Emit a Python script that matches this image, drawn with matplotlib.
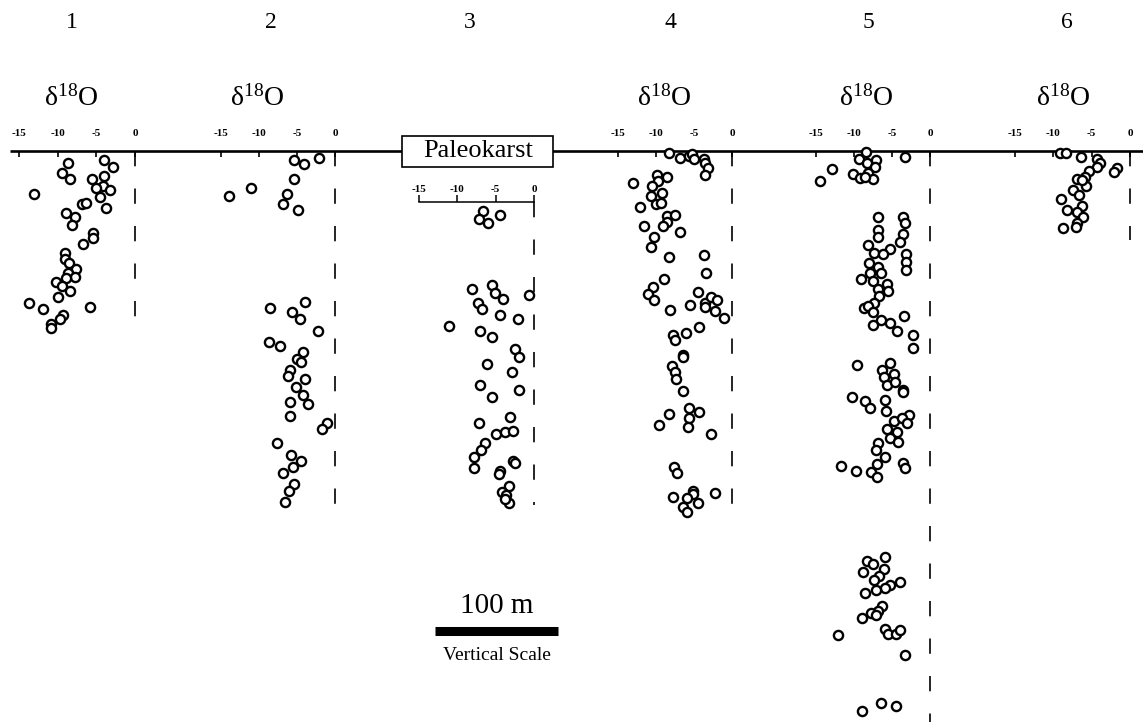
import numpy as np
import matplotlib.pyplot as plt
from matplotlib.patches import Rectangle

# -------------------------------------------------------
# delta-18O profiles of six sections hung from the paleokarst surface
# x = d18O (per mil), y = depth below the surface (m)
# -------------------------------------------------------

plt.rcParams['font.family'] = ['Liberation Serif', 'DejaVu Serif']
plt.rcParams['mathtext.default'] = 'regular'
plt.rcParams['lines.scale_dashes'] = False

sections = ['1', '2', '3', '4', '5', '6']

c1_d18o = [-8.7, -4.0, -2.9, -9.4, -8.4, -5.5, -4.0, -4.1, -3.2, -5.0, -4.5, -13.0, -6.8,
           -6.4, -3.7, -8.9, -7.8, -8.2, -5.4, -5.4, -6.7, -9.1, -9.1, -8.5, -7.6, -8.6,
           -7.8, -8.9, -10.2, -9.5, -8.4, -10.0, -13.7, -11.9, -5.8, -9.3, -9.7, -10.8, -10.9]
c1_depth = [10.0, 7.3, 13.2, 17.6, 23.0, 22.5, 20.1, 28.5, 31.7, 30.3, 37.2, 35.2, 43.1,
            42.0, 46.6, 50.7, 54.0, 60.4, 66.9, 71.0, 75.6, 83.2, 88.1, 91.3, 96.2, 99.0,
            102.7, 103.5, 106.3, 109.8, 113.8, 118.5, 123.3, 128.7, 127.1, 133.3, 136.6,
            140.7, 144.1]

c2_d18o = [-5.4, -4.1, -2.1, -5.4, -11.0, -13.9, -6.3, -6.8, -4.9,
           -4.0, -8.6, -5.7, -4.6, -2.2, -8.7, -7.2, -4.2, -5.0, -4.5, -5.9, -6.2, -3.9,
           -5.1, -4.2, -3.6, -5.9, -5.9, -1.1, -1.7, -7.6, -5.8, -4.5, -5.5, -6.9, -5.4,
           -6.0, -6.6]
c2_depth = [7.3, 10.6, 5.7, 22.5, 30.1, 36.6, 35.0, 43.1, 48.0,
            122.8, 127.6, 130.9, 136.8, 146.6, 155.3, 158.5, 163.4, 168.9, 171.5, 178.0,
            182.9, 185.6, 192.1, 198.1, 205.7, 204.3, 215.4, 221.4, 226.3, 237.4, 247.2,
            251.8, 256.7, 261.5, 270.7, 276.2, 285.4]

c3_d18o = [-6.6, -4.5, -7.2, -6.0, -5.5, -8.1, -5.1, -4.0, -0.7, -7.3, -6.8, -4.5, -2.1,
           -11.1, -7.1, -5.5, -2.5, -1.9, -6.1, -2.9, -7.1, -2.0, -5.5, -3.1, -7.2, -5.0,
           -3.8, -2.8, -6.4, -6.9, -7.8, -7.8, -2.8, -2.5, -4.4, -4.6, -3.3, -4.2, -3.6,
           -3.2, -3.8]
c3_depth = [7.1, 10.3, 13.6, 16.8, 67.2, 70.7, 74.2, 78.9, 75.4, 82.4, 87.2, 91.6, 95.4,
            100.8, 105.1, 110.0, 119.8, 125.8, 132.0, 138.0, 148.8, 152.8, 158.8, 174.6,
            179.9, 188.9, 187.2, 186.2, 195.7, 201.6, 207.6, 216.0, 210.3, 212.4, 218.7,
            221.4, 230.9, 235.5, 238.2, 245.0, 241.7]

c4_d18o = [-8.3, -6.9, -5.7, -5.3, -5.0, -3.7, -3.5, -3.2, -3.6, -8.6, -9.9, -13.0, -9.7,
           -10.5, -9.2, -10.6, -10.0, -9.3, -12.1, -8.6, -7.5, -8.5, -9.1, -11.6, -6.9,
           -10.2, -10.6, -8.3, -3.7, -3.4, -9.0, -10.4, -11.1, -10.2, -8.1, -4.5, -5.5,
           -3.5, -2.7, -2.0, -2.2, -1.0, -3.6, -4.4, -6.0, -7.7, -7.5, -6.4, -6.5, -7.9,
           -7.5, -7.4, -6.5, -5.6, -4.4, -5.6, -8.3, -9.6, -5.8, -2.8, -7.6, -7.3, -5.1,
           -5.1, -7.7, -5.9, -4.5, -2.2, -6.5, -5.9]
c4_depth = [1.9, 5.9, 4.1, 2.4, 6.7, 6.3, 9.5, 13.8, 19.3, 20.9, 19.5, 25.8, 24.1, 28.5,
            33.9, 36.3, 43.1, 42.5, 45.8, 52.6, 52.0, 57.5, 60.7, 61.0, 66.1, 70.2, 77.8,
            86.4, 84.6, 99.4, 103.8, 110.3, 116.3, 121.1, 129.3, 114.6, 125.2, 123.8,
            118.5, 121.1, 129.8, 136.0, 126.6, 142.8, 148.2, 149.3, 153.7, 165.9, 167.2,
            174.8, 179.7, 185.6, 194.9, 209.2, 212.0, 217.3, 214.1, 223.0, 224.1, 230.1,
            256.7, 261.5, 276.2, 278.9, 281.1, 282.4, 285.9, 278.3, 289.2, 293.3]

c5_d18o = [-8.4, -3.3, -9.3, -7.1, -8.3, -7.2, -12.9, -10.1, -9.2, -8.1, -7.5, -14.5, -8.5,
           -6.8, -3.6, -3.3, -6.9, -6.9, -3.5, -3.9, -8.2, -5.3, -7.4, -6.2, -3.1, -3.1,
           -8.0, -6.9, -3.2, -6.5, -7.9, -9.1, -7.5, -5.6, -6.9, -5.5, -6.7, -7.4, -8.7,
           -8.1, -7.5, -3.4, -6.5, -5.3, -7.5, -4.3, -2.2, -2.3, -9.6, -5.3, -6.3, -4.8,
           -6.0, -5.7, -4.6, -3.5, -3.5, -10.3, -8.5, -5.9, -7.9, -5.8, -2.7, -4.8, -3.7,
           -3.0, -5.7, -4.4, -5.3, -4.2, -6.8, -7.1, -5.9, -3.6, -3.3, -11.7, -9.7, -7.7,
           -7.0, -7.0,
           -8.3, -5.9, -7.5, -6.1, -8.8, -6.7, -7.4, -5.3, -3.9, -5.9, -7.1, -8.5, -6.3,
           -6.9, -7.8, -8.9, -7.1, -5.9, -5.5, -4.5, -3.9, -12.1, -3.3, -6.4, -4.5, -9.0]
c5_depth = [0.8, 4.6, 6.7, 7.3, 9.5, 13.3, 14.6, 18.9, 22.2, 18.1, 23.0, 24.1, 20.9,
            53.4, 53.9, 58.3, 64.2, 69.7, 67.5, 74.2, 76.4, 79.9, 82.7, 84.0, 84.0, 90.0,
            90.8, 94.1, 96.7, 98.9, 99.4, 104.1, 105.4, 108.1, 112.0, 113.8, 117.9, 123.8,
            127.9, 126.0, 131.1, 134.1, 137.4, 139.6, 141.5, 146.1, 149.6, 160.4, 174.0,
            172.6, 178.0, 181.3, 183.5, 190.2, 187.6, 194.3, 195.7, 199.8, 203.0, 202.4,
            209.2, 211.1, 214.6, 219.3, 217.3, 221.4, 226.3, 228.2, 233.6, 236.3, 237.6,
            243.1, 248.5, 253.9, 258.0, 256.1, 259.9, 260.7, 254.5, 265.3,
            333.1, 330.3, 336.0, 339.8, 342.3, 345.5, 348.8, 352.8, 350.2, 355.5, 356.9,
            359.1, 369.9, 374.0, 375.9, 379.9, 377.2, 388.9, 392.9, 392.9, 389.4, 393.7,
            409.8, 449.0, 451.2, 455.3]

c6_d18o = [-9.1, -8.3, -6.4, -4.3, -3.9, -4.3, -1.7, -2.1, -5.3, -5.9, -6.9, -5.7, -6.3,
           -7.5, -6.7, -9.0, -6.2, -8.2, -6.9, -6.1, -6.9, -8.8, -7.0]
c6_depth = [1.9, 1.9, 5.1, 6.5, 9.5, 12.8, 13.8, 17.1, 16.0, 20.9, 22.5, 28.5, 23.6, 31.7,
            35.8, 38.8, 44.5, 48.0, 49.3, 53.9, 58.8, 62.8, 61.5]

d18o = [c1_d18o, c2_d18o, c3_d18o, c4_d18o, c5_d18o, c6_d18o]
depth = [c1_depth, c2_depth, c3_depth, c4_depth, c5_depth, c6_depth]
section_base = [145, 292, 246, 298, 464, 72]   # m, length of the zero line
ticks = [-15, -10, -5, 0]
tick_labels = ['-15', '-10', '-5', '0']

# layout (pixels)
W, H = 1143, 722
PX_PER_M = 1.23
TOP = 151
col_left = [19, 221, 419, 618, 816, 1015]
col_right = [135, 335, 534, 732, 930, 1130]
col_top = [151, 151, 202, 151, 151, 151]
num_x = [72, 271, 470, 670, 868, 1067]
lab_x = [71, 257, None, 664, 866, 1063]


def fx(px):
    return px / W


def fy(py):
    return 1 - py / H


fig = plt.figure(figsize=(W / 100, H / 100), dpi=100)

# background axes in metres (same scale both ways) for surface line + scale bar
bg = fig.add_axes([0, 0, 1, 1])
bg.set_xlim(0, W / PX_PER_M)
bg.set_ylim((H - TOP) / PX_PER_M, -TOP / PX_PER_M)
bg.axis('off')
bg.hlines(0, 10 / PX_PER_M, W / PX_PER_M, color='black', lw=1.9)

bar_x0 = 435 / PX_PER_M
bar_y = (631 - TOP) / PX_PER_M
bg.plot([bar_x0, bar_x0 + 100], [bar_y, bar_y], color='black', lw=6.5,
        solid_capstyle='butt')

for i in range(6):
    left, right, top = col_left[i], col_right[i], col_top[i]
    ax = fig.add_axes([fx(left), 0, (right - left) / W, (H - top) / H])
    ax.set_xlim(-15, 0)
    ax.set_ylim((H - top) / PX_PER_M, 0)
    ax.patch.set_visible(False)
    ax.plot([0, 0], [0, section_base[i]], color='black', lw=1.2,
            dashes=(11, 16), clip_on=False)
    ax.plot(d18o[i], depth[i], 'o', ls='none', ms=6.6, mfc='white', mec='black',
            mew=1.7, clip_on=False)
    ax.set_xticks(ticks)
    ax.set_xticklabels(tick_labels, fontweight='bold')
    ax.xaxis.tick_top()
    ax.set_yticks([])
    for s in ax.spines.values():
        s.set_visible(False)
    if i == 2:
        ax.spines['top'].set_visible(True)
        ax.spines['top'].set_linewidth(1.1)
        ax.tick_params(axis='x', direction='out', length=5, width=1.1,
                       labelsize=8, pad=1)
    else:
        ax.tick_params(axis='x', direction='in', length=4, width=1.2,
                       labelsize=8, pad=9)

    fig.text(fx(num_x[i]), fy(22), sections[i], fontsize=17, ha='center', va='center')
    if lab_x[i] is not None:
        fig.text(fx(lab_x[i]), fy(98), 'δ$^{18}$O', fontsize=20, ha='center',
                 va='center')

# paleokarst label box breaking the surface line
fig.patches.append(Rectangle((fx(402), fy(167)), (553 - 402) / W, 31 / H,
                             transform=fig.transFigure, fc='white', ec='black',
                             lw=1.2, zorder=2))
fig.text(fx(478), fy(151), 'Paleokarst', fontsize=19, ha='center', va='center',
         zorder=3)
fig.text(fx(497), fy(606), '100 m', fontsize=21, ha='center', va='center')
fig.text(fx(497), fy(656), 'Vertical Scale', fontsize=14, ha='center', va='center')

fig.savefig('out.png', dpi=100)
